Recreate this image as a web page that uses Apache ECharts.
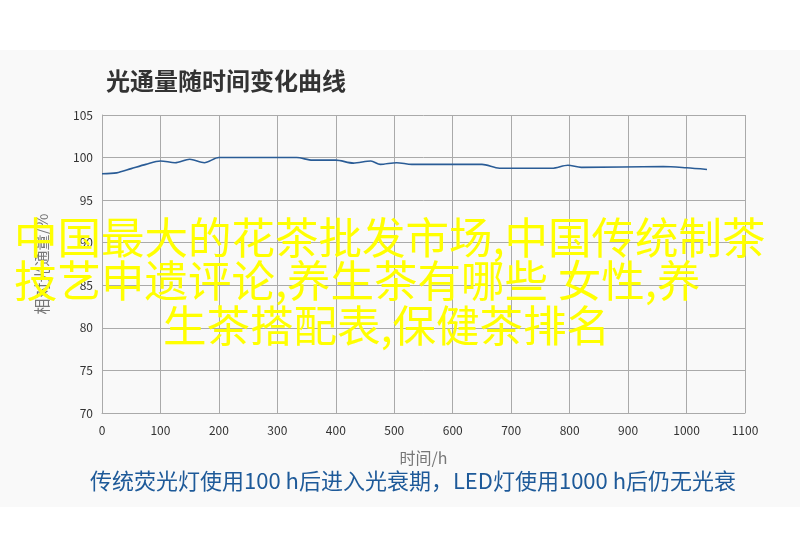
<!DOCTYPE html>
<html>
<head>
<meta charset="utf-8">
<script src="https://cdn.jsdelivr.net/npm/echarts@6/dist/echarts.min.js"></script>
<style>
html,body{margin:0;padding:0;background:#fff;}
#c{width:800px;height:557px;}
</style>
</head>
<body>
<div id="c"></div>
<script>
var titleText = '光通量随时间变化曲线';
var yName = '相对光通量/%';
var xName = '时间/h';
var footerText = '传统荧光灯使用100 h后进入光衰期，LED灯使用1000 h后仍无光衰';
var overlayLines = ['中国最大的花茶批发市场,中国传统制茶', '技艺申遗评论,养生茶有哪些 女性,养', '生茶搭配表,保健茶排名'];

var times = [0, 25, 50, 75, 100, 125, 150, 175, 200, 250, 300, 333, 360, 400, 430, 460, 476, 504, 530, 650, 680, 770, 797, 820, 960, 1000, 1035];
var flux  = [98.1, 98.2, 98.7, 99.2, 99.6, 99.4, 99.8, 99.4, 100, 100, 100, 100, 99.7, 99.7, 99.35, 99.6, 99.2, 99.4, 99.2, 99.2, 98.75, 98.75, 99.1, 98.85, 98.95, 98.8, 98.6];

var xMin = 0, xMax = 1100, xStep = 100;
var yMin = 70, yMax = 105, yStep = 5;

var chart = echarts.init(document.getElementById('c'), null, {renderer: 'canvas'});
var data = times.map(function (t, i) { return [t, flux[i]]; });
var FONT = '"Noto Sans CJK SC", "Noto Sans", sans-serif';

chart.setOption({
  backgroundColor: '#ffffff',
  animation: false,
  title: {
    text: titleText,
    left: 101, top: 64,
    textStyle: {fontFamily: FONT, fontSize: 24, fontWeight: 'bold', color: '#333333'}
  },
  grid: {left: 102, right: 55, top: 115, bottom: 144, containLabel: false},
  xAxis: {
    type: 'value', min: xMin, max: xMax, interval: xStep,
    name: xName, nameLocation: 'middle', nameGap: 37,
    nameTextStyle: {fontFamily: FONT, fontSize: 16, color: '#777777'},
    axisLine: {show: true, lineStyle: {color: '#aaaaaa', width: 1}},
    axisTick: {show: false},
    axisLabel: {margin: 11, fontFamily: FONT, fontSize: 12, color: '#333333',
      formatter: function (v) { return String(v); }},
    splitLine: {show: true, lineStyle: {color: '#aaaaaa', width: 1}}
  },
  yAxis: {
    type: 'value', min: yMin, max: yMax, interval: yStep,
    name: yName, nameLocation: 'middle', nameGap: 52, nameRotate: 90,
    nameTextStyle: {fontFamily: FONT, fontSize: 16, color: '#777777'},
    axisLine: {show: true, lineStyle: {color: '#aaaaaa', width: 1}},
    axisTick: {show: false},
    axisLabel: {margin: 9, fontFamily: FONT, fontSize: 12, color: '#333333',
      formatter: function (v) { return String(v); }},
    splitLine: {show: true, lineStyle: {color: '#aaaaaa', width: 1}}
  },
  series: [{
    type: 'line',
    data: data,
    smooth: 0.3,
    showSymbol: false,
    lineStyle: {color: '#2a5c96', width: 1.6},
    z: 3
  }],
  graphic: [
    {type: 'rect', z: -100, silent: true, shape: {x: 0, y: 50, width: 800, height: 457}, style: {fill: '#f9f9f9'}},
    {type: 'text', z: 100, left: 90, top: 470,
      style: {text: footerText, font: '22px ' + FONT, fill: '#1e5a99'}},
    {type: 'text', z: 100, left: 14, top: 216,
      style: {text: overlayLines[0], font: '43.5px ' + FONT, fill: '#ffff00'}},
    {type: 'text', z: 100, left: 14, top: 259,
      style: {text: overlayLines[1], font: '43.5px ' + FONT, fill: '#ffff00'}},
    {type: 'text', z: 100, left: 163, top: 304,
      style: {text: overlayLines[2], font: '43.5px ' + FONT, fill: '#ffff00'}}
  ]
});
</script>
</body>
</html>
